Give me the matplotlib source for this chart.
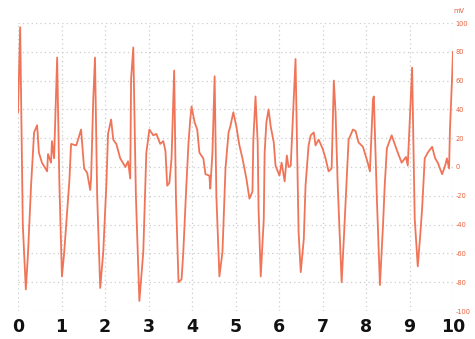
import matplotlib
matplotlib.use("Agg")
import matplotlib.pyplot as plt

time_s = [0.00, 0.05, 0.11, 0.18, 0.23, 0.30, 0.37, 0.44, 0.48, 0.55, 0.67, 0.69, 0.76, 0.78, 0.83,
          0.90, 0.95, 1.01, 1.06, 1.18, 1.22, 1.34, 1.45, 1.52, 1.59, 1.66, 1.68, 1.73,
          1.77, 1.82, 1.89, 1.96, 2.03, 2.07, 2.14, 2.19, 2.26, 2.35, 2.47, 2.53, 2.58,
          2.60, 2.65, 2.71, 2.79, 2.88, 2.95, 3.02, 3.11, 3.18, 3.27, 3.34, 3.39, 3.43,
          3.48, 3.53, 3.59, 3.63, 3.69, 3.76, 3.80, 3.87, 3.92, 3.96, 3.99, 4.06, 4.12,
          4.17, 4.26, 4.31, 4.40, 4.42, 4.47, 4.52, 4.56, 4.63, 4.70, 4.77, 4.84, 4.88,
          4.95, 5.02, 5.09, 5.16, 5.25, 5.32, 5.39, 5.41, 5.46, 5.51, 5.53, 5.58,
          5.65, 5.67, 5.71, 5.76, 5.81, 5.88, 5.92, 5.97, 6.01, 6.06, 6.13, 6.18,
          6.22, 6.27, 6.34, 6.38, 6.45, 6.50, 6.57, 6.61, 6.68, 6.73, 6.80, 6.84,
          6.91, 7.00, 7.07, 7.14, 7.21, 7.26, 7.30, 7.35, 7.44, 7.49, 7.56, 7.60,
          7.70, 7.76, 7.83, 7.93, 7.97, 8.04, 8.09, 8.16, 8.18, 8.25, 8.32, 8.39,
          8.43, 8.48, 8.53, 8.59, 8.66, 8.73, 8.82, 8.92, 8.96, 9.03, 9.06, 9.12,
          9.19, 9.24, 9.29, 9.35, 9.42, 9.52, 9.59, 9.65, 9.75, 9.82, 9.86, 9.91,
          9.93, 9.98, 10.00]
voltage_mv = [38, 97, -40, -85, -60, -13, 24, 29, 10, 3, -3, 9, 3, 18, 6,
              76, -10, -76, -60, -10, 16, 15, 26, -1, -4, -16, -8, 47,
              76, -20, -84, -59, -13, 23, 33, 19, 16, 6, 0, 4, -8,
              61, 83, -20, -93, -59, 10, 26, 22, 23, 16, 18, 11, -13,
              -11, 6, 67, -20, -80, -78, -59, -13, 17, 33, 42, 31, 26,
              10, 6, -5, -6, -15, 10, 63, -20, -76, -59, -1, 24, 28,
              38, 28, 15, 6, -8, -22, -17, 19, 49, 17, -29, -76,
              -36, 10, 31, 40, 28, 17, 1, -3, -6, 3, -10, 8,
              0, 1, 49, 75, -45, -73, -50, -13, 15, 22, 24, 15,
              19, 13, 6, -3, -1, 60, 38, -13, -80, -50, -6, 19,
              26, 25, 17, 14, 10, 3, -3, 47, 49, -22, -82, -41,
              -13, 13, 17, 22, 16, 10, 3, 7, 1, 49, 69, -36,
              -69, -50, -29, 6, 10, 14, 6, 3, -5, 1, 6, -1,
              26, 63, 80]

x_ticks = list(range(0, 11))
y_ticks = [100, 80, 60, 40, 20, 0, -20, -40, -60, -80, -100]
y_unit = "mV"

line_color = "#f07458"
label_color = "#e8613c"

fig = plt.figure(figsize=(4.75, 3.39), dpi=100)
ax = fig.add_axes([18 / 475, 1 - 311 / 339, (453 - 18) / 475, (311 - 23) / 339])
ax.plot(time_s, voltage_mv, color=line_color, linewidth=1.3, solid_joinstyle="round")
ax.set_xlim(0, 10)
ax.set_ylim(-100, 100)
ax.set_xticks(x_ticks)
ax.set_xticklabels([str(t) for t in x_ticks], fontsize=12.5, fontweight="bold", color="#111111")
ax.yaxis.tick_right()
ax.set_yticks(y_ticks)
ax.set_yticklabels([str(v) for v in y_ticks], fontsize=4.8, color=label_color)
ax.tick_params(axis="both", length=0)
ax.tick_params(axis="x", pad=5)
ax.tick_params(axis="y", pad=2)
ax.grid(True, color="#cccccc", linestyle=(0, (1, 2.5)), linewidth=0.9)
for s in ax.spines.values():
    s.set_visible(False)
ax.text(1.0, 1.03, y_unit, transform=ax.transAxes, fontsize=4.8, color=label_color,
        ha="left", va="bottom")
fig.savefig("out.png", dpi=100)
